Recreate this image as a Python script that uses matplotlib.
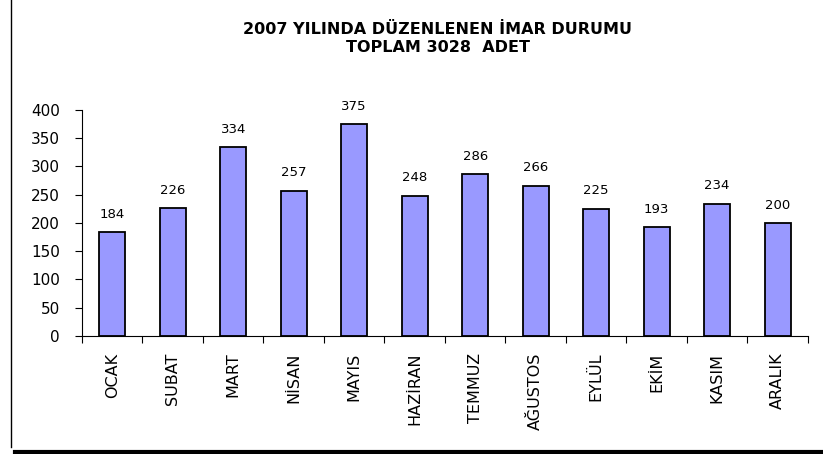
import matplotlib.pyplot as plt
import numpy as np
from matplotlib.lines import Line2D

months = ['OCAK', 'SUBAT', 'MART', 'NİSAN', 'MAYIS', 'HAZİRAN',
          'TEMMUZ', 'AĞUSTOS', 'EYLÜL', 'EKİM', 'KASIM', 'ARALIK']
counts = [184, 226, 334, 257, 375, 248, 286, 266, 225, 193, 234, 200]
yticks = [0, 50, 100, 150, 200, 250, 300, 350, 400]

plt.rcParams['font.family'] = ['DejaVu Sans']

fig = plt.figure(figsize=(8.23, 4.54), dpi=100)
ax = fig.add_axes([0.0996, 0.26, 0.882, 0.498])

x = np.arange(len(months))
ax.bar(x, counts, width=0.43, color='#9999FF', edgecolor='black', linewidth=1.3)

# value labels over the bars
for xi, v in zip(x, counts):
    ax.text(xi, v + 20, str(v), ha='center', va='bottom', fontsize=9.5)

ax.set_xlim(-0.5, len(months) - 0.5)
ax.set_ylim(0, 400)
ax.set_yticks(yticks)
ax.set_xticks(x)
ax.set_xticklabels(months, rotation=90, fontsize=11.5)
ax.tick_params(axis='x', which='major', length=0, pad=12)
ax.set_xticks(np.arange(-0.5, len(months)), minor=True)
ax.tick_params(axis='x', which='minor', length=5, width=0.8, direction='out')
ax.tick_params(axis='y', length=5, width=0.8, labelsize=11, pad=11)

for s in ['top', 'right']:
    ax.spines[s].set_visible(False)
for s in ['left', 'bottom']:
    ax.spines[s].set_linewidth(0.8)

fig.text(0.532, 0.934, '2007 YILINDA DÜZENLENEN İMAR DURUMU', ha='center',
         va='center', fontsize=11.5, fontweight='bold')
fig.text(0.532, 0.896, 'TOPLAM 3028  ADET', ha='center', va='center',
         fontsize=11.5, fontweight='bold')

# frame lines like the original screenshot
fig.add_artist(Line2D([0.0128, 0.0128], [0.015, 1.0], color='black', lw=1.0,
                      transform=fig.transFigure))
fig.add_artist(Line2D([0.018, 1.0], [0.004, 0.004], color='black', lw=3.0,
                      transform=fig.transFigure))

fig.savefig('out.png', dpi=100, facecolor='white')
